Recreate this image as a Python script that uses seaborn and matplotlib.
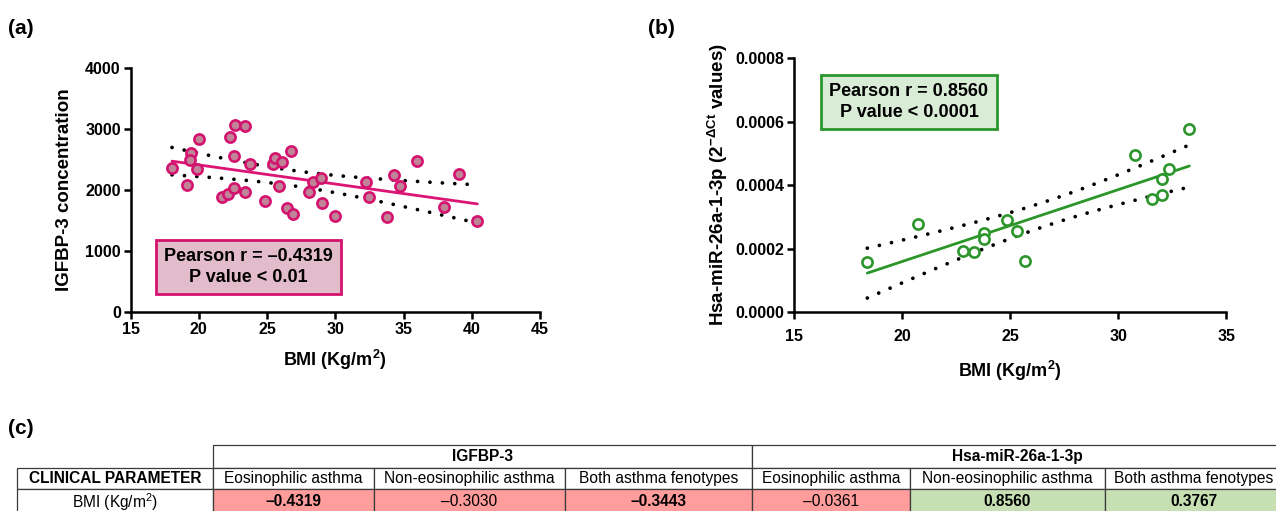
import numpy as np
import matplotlib
matplotlib.use('Agg')
import matplotlib.pyplot as plt
from matplotlib.patches import Rectangle
import seaborn as sns

# panel (a): BMI vs IGFBP-3
bmi_a = [18.04, 19.11, 19.40, 19.35, 19.87, 20.03, 21.68, 22.15, 22.31, 22.57,
         22.57, 22.65, 23.41, 23.41, 23.78, 24.88, 25.45, 25.56, 25.90, 26.11,
         26.45, 26.76, 26.92, 28.05, 28.34, 28.94, 29.04, 30.01, 32.24, 32.45,
         33.76, 34.28, 34.75, 35.96, 37.95, 39.10, 40.41]
igfbp3 = [2362, 2081, 2605, 2497, 2351, 2832, 1892, 1940, 2870, 2557,
          2027, 3065, 3054, 1973, 2422, 1827, 2422, 2530, 2065, 2454,
          1708, 2638, 1611, 1973, 2124, 2205, 1784, 1568, 2135, 1881,
          1557, 2254, 2065, 2476, 1719, 2259, 1497]

# panel (b): BMI vs Hsa-miR-26a-1-3p
bmi_b = [18.39, 20.73, 22.84, 23.31, 23.80, 23.80, 24.87, 25.33, 25.68, 30.78,
         31.59, 32.02, 32.02, 32.37, 33.30]
mir26a = [0.000158, 0.000278, 0.000192, 0.000190, 0.000249, 0.000230, 0.000290,
          0.000254, 0.000162, 0.000494, 0.000357, 0.000420, 0.000368, 0.000449,
          0.000575]

# panel (c): correlation table
table_groups = ['IGFBP-3', 'Hsa-miR-26a-1-3p']
table_subgroups = ['Eosinophilic asthma', 'Non-eosinophilic asthma', 'Both asthma fenotypes']
table_corner = 'CLINICAL PARAMETER'
table_row = r'BMI (Kg/m$^{\mathregular{2}}$)'
table_values = [-0.4319, -0.3030, -0.3443, -0.0361, 0.8560, 0.3767]
table_bold = [True, False, True, False, True, True]

sns.set_style('ticks')
plt.rcParams['font.family'] = ['Liberation Sans', 'DejaVu Sans']
plt.rcParams['mathtext.fontset'] = 'custom'
plt.rcParams['mathtext.rm'] = 'Liberation Sans'
plt.rcParams['mathtext.bf'] = 'Liberation Sans:bold'
plt.rcParams['mathtext.it'] = 'Liberation Sans:italic'
for key in ('text.color', 'axes.labelcolor', 'xtick.color', 'ytick.color'):
    plt.rcParams[key] = 'black'

# two-sided 95% t values for n-2 degrees of freedom
T95 = {35: 2.030, 13: 2.160}


def conf_band(x, y):
    x = np.asarray(x, float)
    y = np.asarray(y, float)
    n = len(x)
    b, a = np.polyfit(x, y, 1)
    xs = np.linspace(x.min(), x.max(), 200)
    s = np.sqrt(np.sum((y - (a + b * x)) ** 2) / (n - 2))
    se = s * np.sqrt(1 / n + (xs - x.mean()) ** 2 / np.sum((x - x.mean()) ** 2))
    fit = a + b * xs
    t = T95[n - 2]
    return xs, fit - t * se, fit + t * se


def style_axes(ax, xpad=2):
    sns.despine(ax=ax)
    for sp in ('left', 'bottom'):
        ax.spines[sp].set_linewidth(1.8)
        ax.spines[sp].set_color('black')
    ax.tick_params(width=1.8, length=5, color='black', labelsize=11.5, pad=2)
    ax.tick_params(axis='x', pad=xpad)
    for lab in ax.get_xticklabels() + ax.get_yticklabels():
        lab.set_fontweight('bold')


def panel(ax, x, y, edge, fill, line, boxfill, text, boxpos):
    sns.regplot(x=x, y=y, ax=ax, scatter=False, ci=None, color=line,
                line_kws=dict(lw=2))
    xs, lo, hi = conf_band(x, y)
    for band in (lo, hi):
        ax.plot(xs, band, color='black', lw=2.7, ls=(0, (0.01, 3.3)),
                dash_capstyle='round')
    sns.scatterplot(x=x, y=y, ax=ax, s=54, color=fill, edgecolor=edge,
                    linewidth=1.9, zorder=4)
    ax.text(boxpos[0], boxpos[1], text, transform=ax.transAxes, ha='center',
            va='center', fontsize=13, fontweight='bold', linespacing=1.25,
            bbox=dict(boxstyle='square,pad=0.45', fc=boxfill, ec=edge, lw=2))


fig = plt.figure(figsize=(12.76, 5.11), dpi=100)

# background axes in pixel units for the table and panel letters
bg = fig.add_axes([0, 0, 1, 1])
bg.set_xlim(0, 1276)
bg.set_ylim(511, 0)
bg.axis('off')

ax_a = fig.add_axes([0.1023, 0.3894, 0.3209, 0.4775])
panel(ax_a, bmi_a, igfbp3, '#d4136f', '#c08499', '#dc1476', '#e3bccb',
      'Pearson r = \u20130.4319\nP value < 0.01', (0.287, 0.184))
ax_a.set_xlim(15, 45)
ax_a.set_ylim(0, 4000)
ax_a.set_xticks(range(15, 46, 5))
ax_a.set_yticks(range(0, 4001, 1000))
ax_a.set_xlabel(r'BMI (Kg/m$^{\mathbf{2}}$)', fontsize=13, fontweight='bold', labelpad=8)
ax_a.set_ylabel('IGFBP-3 concentration', fontsize=13.5, fontweight='bold', labelpad=9)
style_axes(ax_a)

ax_b = fig.add_axes([0.6223, 0.3894, 0.3386, 0.4971])
panel(ax_b, bmi_b, mir26a, '#2c962c', 'white', '#2a962a', '#d9ecd6',
      'Pearson r = 0.8560\nP value < 0.0001', (0.266, 0.827))
ax_b.set_xlim(15, 35)
ax_b.set_ylim(0, 0.0008)
ax_b.set_xticks(range(15, 36, 5))
ax_b.set_yticks(np.arange(0, 0.00081, 0.0002))
ax_b.set_yticklabels(['%.4f' % v for v in np.arange(0, 0.00081, 0.0002)])
ax_b.set_xlabel(r'BMI (Kg/m$^{\mathbf{2}}$)', fontsize=13, fontweight='bold', labelpad=11)
ax_b.set_ylabel(r'Hsa-miR-26a-1-3p (2$^{\mathregular{-\Delta Ct}}$ values)',
                fontsize=13.5, fontweight='bold', labelpad=4)
style_axes(ax_b, xpad=7)

for lbl, (px, py) in zip(['(a)', '(b)', '(c)'], [(8, 28), (648, 28), (8, 428)]):
    bg.text(px, py, lbl, fontsize=15, fontweight='bold', ha='left', va='center')

# table
col_edges = [16.7, 213, 374, 565, 752, 910, 1105, 1283]
row_edges = [445, 468, 489, 525]
lc = '#3a3a3a'


def cell(x0, x1, y0, y1, text, bold=False, fc='white', ty=None):
    bg.add_patch(Rectangle((x0, y0), x1 - x0, y1 - y0, fc=fc, ec=lc, lw=0.9))
    bg.text((x0 + x1) / 2, (y0 + y1) / 2 if ty is None else ty, text,
            ha='center', va='center', fontsize=11.2,
            fontweight='bold' if bold else 'normal')


for g, grp in enumerate(table_groups):
    cell(col_edges[1 + 3 * g], col_edges[4 + 3 * g], row_edges[0], row_edges[1], grp, bold=True)

cell(col_edges[0], col_edges[1], row_edges[1], row_edges[2], table_corner, bold=True)
for i in range(6):
    cell(col_edges[i + 1], col_edges[i + 2], row_edges[1], row_edges[2], table_subgroups[i % 3])

cell(col_edges[0], col_edges[1], row_edges[2], row_edges[3], table_row, ty=502)
for i, v in enumerate(table_values):
    fc = '#ff9c9c' if i < 4 else '#c6e0b4'
    txt = ('%.4f' % v).replace('-', '\u2013')
    cell(col_edges[i + 1], col_edges[i + 2], row_edges[2], row_edges[3], txt,
         bold=table_bold[i], fc=fc, ty=502)

fig.savefig('out.png', dpi=100)
